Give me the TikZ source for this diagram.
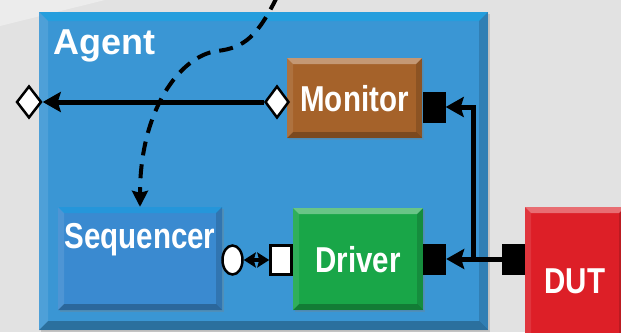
\documentclass[tikz,border=0pt]{standalone}
\usepackage{fontspec}
\setmainfont{Liberation Sans}
\newfontfamily\narrowfont[FakeStretch=0.82]{Liberation Sans}
\usetikzlibrary{arrows.meta,shapes.geometric,shadows}

\definecolor{bggray}{HTML}{E2E2E2}
\definecolor{bglight}{HTML}{ECECEC}
\definecolor{agentblue}{HTML}{3A96D4}
\definecolor{seqblue}{HTML}{3A8AD0}
\definecolor{monbrown}{HTML}{A5622A}
\definecolor{drvgreen}{HTML}{19A648}
\definecolor{dutred}{HTML}{DD1F27}

\tikzset{
	bevel top/.store in=\bevtop, bevel top=white,
	bevel/.style={path picture={
		\path (path picture bounding box.north west) coordinate (bnw)
		      (path picture bounding box.north east) coordinate (bne)
		      (path picture bounding box.south east) coordinate (bse)
		      (path picture bounding box.south west) coordinate (bsw);
		\fill[\bevtop,opacity=.35] (bnw) -- (bne) -- ([shift={(-#1,-#1)}]bne) -- ([shift={(#1,-#1)}]bnw) -- cycle;
		\fill[black,opacity=.25] (bsw) -- (bse) -- ([shift={(-#1,#1)}]bse) -- ([shift={(#1,#1)}]bsw) -- cycle;
		\fill[white,opacity=.1] (bnw) -- ([shift={(#1,-#1)}]bnw) -- ([shift={(#1,#1)}]bsw) -- (bsw) -- cycle;
		\fill[black,opacity=.15] (bne) -- ([shift={(-#1,-#1)}]bne) -- ([shift={(-#1,#1)}]bse) -- (bse) -- cycle;
	}},
	bevel/.default=6pt,
	block/.style={rectangle, inner sep=0pt, text=white,
		font=\narrowfont\bfseries\fontsize{36}{40}\selectfont,
		text height=26pt, text depth=0pt, bevel,
		drop shadow={opacity=.3, shadow xshift=1.5pt, shadow yshift=-1.5pt}},
	port/.style={rectangle, fill=black, inner sep=0pt, minimum width=23pt, minimum height=31pt},
	plug/.style={draw=black, fill=white, line width=2.5pt, inner sep=0pt, minimum width=#1, minimum height=29pt},
	bus/.style={line width=5pt, -{Stealth[length=18pt,width=20pt,inset=3pt]}},
	link/.style={line width=4pt, {Stealth[length=12pt,width=15pt,inset=2pt]}-{Stealth[length=12pt,width=15pt,inset=2pt]}},
	seqarrow/.style={line width=4pt, dash pattern=on 14pt off 9pt, -{Stealth[length=16pt,width=16pt,inset=2pt]}}
}

\begin{document}
\begin{tikzpicture}[x=1pt,y=-1pt]
	\useasboundingbox (0,0) rectangle (621,332);
	\clip (0,0) rectangle (621,332);
	\fill[bggray] (0,0) rectangle (621,332);
	\fill[bglight] (0,0) -- (105,0) -- (0,26) -- cycle;

	% agent and its parts
	\node[block, fill=agentblue, bevel top=cyan, bevel=9pt, minimum width=449pt, minimum height=318pt] (agent) at (263.5,171) {};
	\node[text=white, font=\bfseries\fontsize{36}{40}\selectfont, anchor=base west, inner sep=0pt] (agentname) at (53,54) {Agent};

	\node[block, fill=monbrown, minimum width=135pt, minimum height=80pt] (monitor) at (354.5,98) {Monitor};
	\node[block, fill=seqblue, bevel top=cyan, minimum width=164pt, minimum height=103pt, text height=25pt, text depth=46pt] (seq) at (140,258.5) {Sequencer};
	\node[block, fill=drvgreen, minimum width=130pt, minimum height=102pt] (driver) at (358,259) {Driver};
	\node[block, fill=dutred, minimum width=100pt, minimum height=146pt] (dut) at (575,280) {DUT};

	% ports
	\node[port] (monport) at (434,107) {};
	\node[port] (drvport) at (434.5,259) {};
	\node[port] (dutport) at (513.5,259) {};
	\node[plug=24pt, diamond, minimum height=32pt] (mondia) at (277,102) {};
	\node[plug=25pt, diamond, minimum height=32pt] (outdia) at (29,102) {};
	\node[plug=20pt, ellipse] (seqport) at (232.5,260) {};
	\node[plug=21pt] (drvsq) at (281,260) {};

	\coordinate (tap) at (473,259);
	\coordinate (top) at (277,-3);
	\coordinate (bend) at (217,51);

	% connections
	\draw[bus] (mondia) -- (outdia);
	\draw[bus] (dutport) -- (drvport);
	\draw[bus] (tap) |- (monport.east);
	\draw[link] (seqport) -- (drvsq);
	\draw[seqarrow] (top) .. controls (258,35) and (245,48) .. (bend)
		.. controls (180,56) and (140,110) .. (seq.north);
\end{tikzpicture}
\end{document}
